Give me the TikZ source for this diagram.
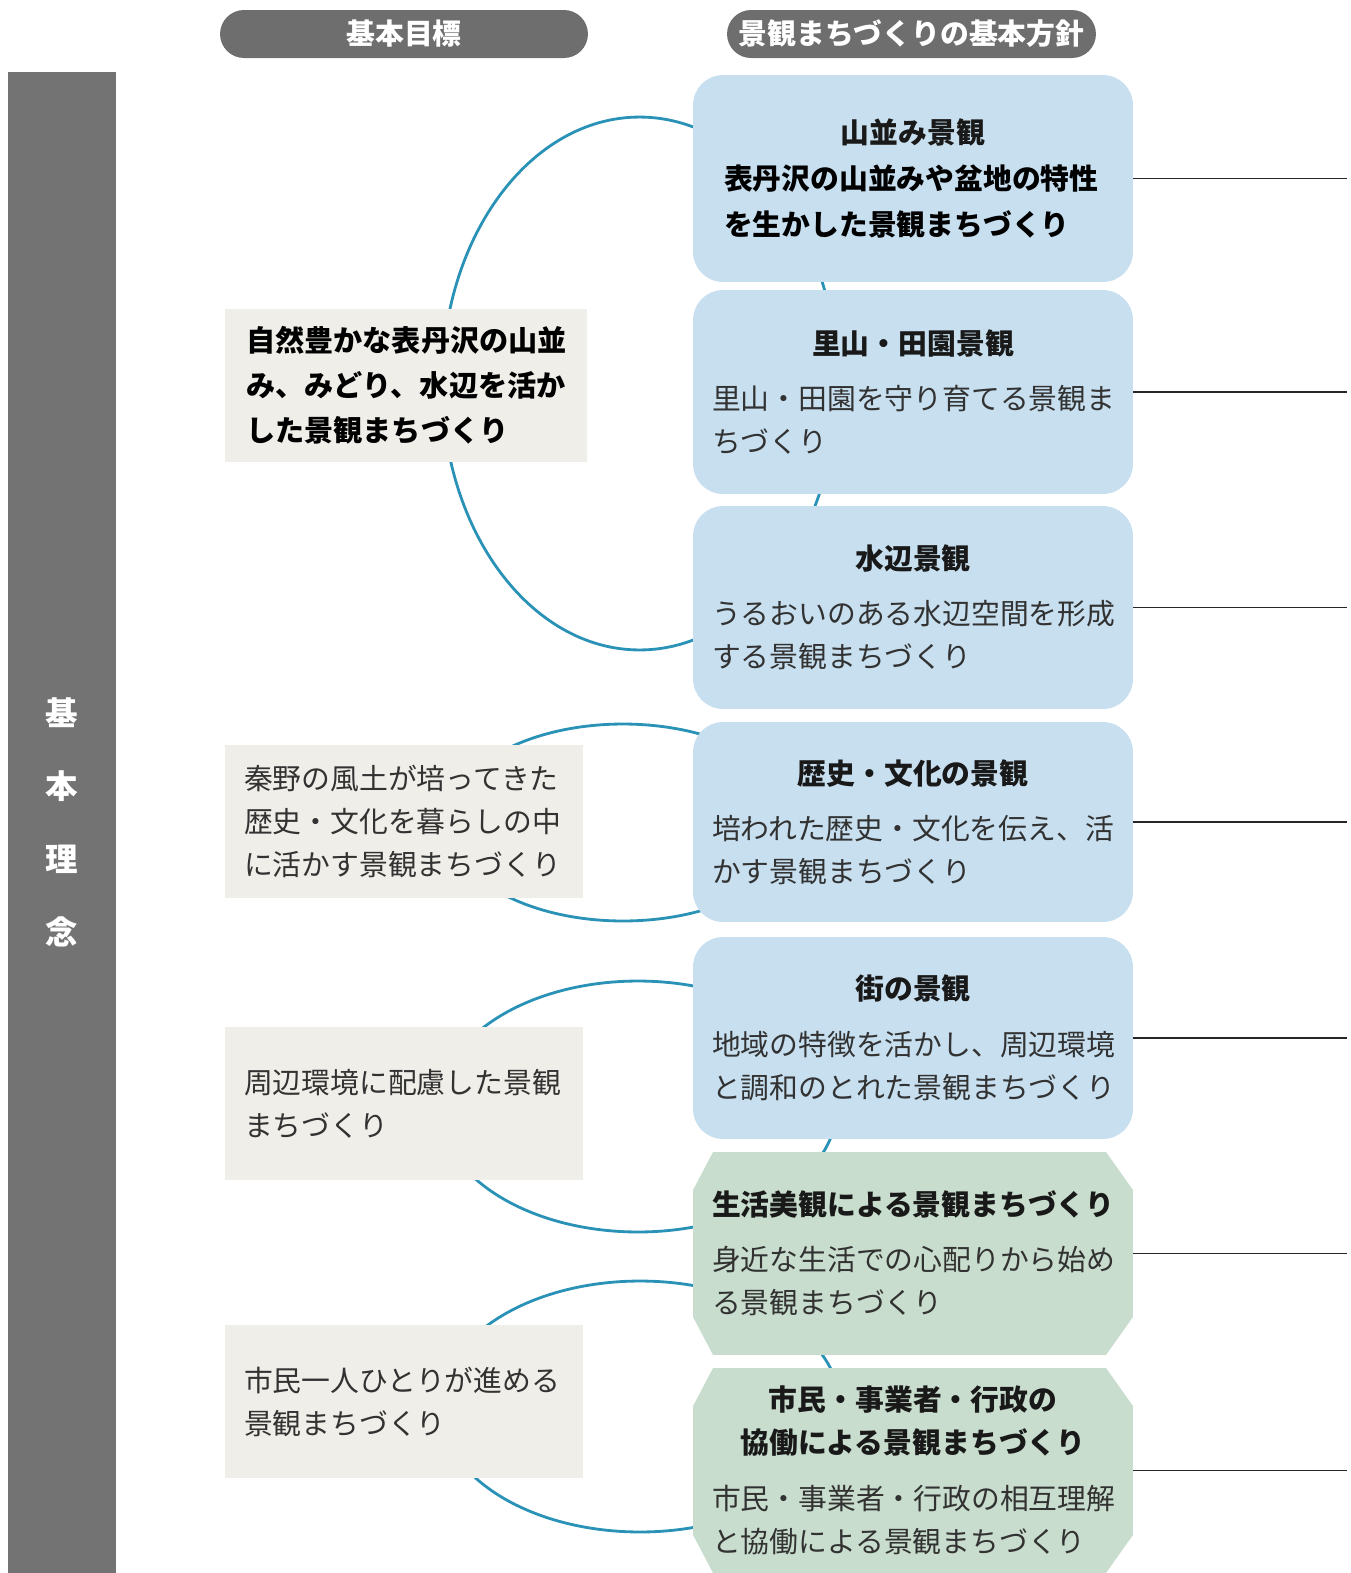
\documentclass[tikz,border=0pt]{standalone}
\usepackage{fontspec}
\setmainfont{Noto Sans CJK JP}
\usetikzlibrary{shapes.geometric}

\definecolor{bargray}{RGB}{115,115,115}
\definecolor{pillgray}{RGB}{110,110,110}
\definecolor{polblue}{RGB}{199,223,239}
\definecolor{polgreen}{RGB}{200,221,205}
\definecolor{goalbeige}{RGB}{240,238,232}
\definecolor{ringblue}{RGB}{42,146,182}
\definecolor{bodytext}{RGB}{50,50,50}

\newcommand\boxfont{\fontsize{16.4}{24.5}\selectfont}
\newcommand\polhead[2][7pt]{{\centering\bfseries\color{black!90}#2\par}\vspace{#1}}

\tikzset{
  pill/.style={rectangle, rounded corners=0.48cm, fill=pillgray, text=white,
    minimum height=0.96cm, inner ysep=0pt, font=\boxfont\bfseries},
  bar/.style={rectangle, fill=bargray, text=white, minimum width=2.16cm,
    minimum height=30.02cm, align=center, font=\fontsize{18.5}{41.5}\selectfont\bfseries},
  ring/.style={ellipse, draw=ringblue, line width=1.6pt, inner sep=0pt},
  policy/.style={rectangle, rounded corners=0.6cm, fill=polblue, minimum width=8.8cm,
    text width=8.04cm, inner xsep=0.38cm, align=left, text=bodytext, font=\boxfont},
  lifestyle/.style={policy, sharp corners, fill=white,
    path picture={\fill[polgreen]
      ([xshift=0.4cm]path picture bounding box.north west) --
      ([xshift=-0.54cm]path picture bounding box.north east) --
      ([yshift=-0.76cm]path picture bounding box.north east) --
      ([yshift=0.76cm]path picture bounding box.south east) --
      ([xshift=-0.54cm]path picture bounding box.south east) --
      ([xshift=0.4cm]path picture bounding box.south west) --
      ([yshift=0.76cm]path picture bounding box.south west) --
      ([yshift=-0.76cm]path picture bounding box.north west) -- cycle;}},
  goal/.style={rectangle, fill=goalbeige, minimum height=3.06cm, text width=6.4cm,
    inner xsep=0.38cm, align=left, text=bodytext, font=\boxfont},
  tie/.style={line width=0.8pt, black!85}
}

\begin{document}
\begin{tikzpicture}[x=0.02cm, y=-0.02cm]
  \useasboundingbox (0,0) rectangle (1351,1573);

  % rings first, the boxes cover them
  \node[ring, minimum width=7.9cm, minimum height=10.66cm] (ringA) at (639.6,383.5) {};
  \node[ring, minimum width=7.0cm, minimum height=3.94cm] (ringB) at (623,822.5) {};
  \node[ring, minimum width=7.96cm, minimum height=5.02cm] (ringC) at (638,1106.5) {};
  \node[ring, minimum width=8.0cm, minimum height=5.02cm] (ringD) at (640,1406.5) {};

  \node[bar] (bar) at (62,822.5) {基\\本\\理\\念};
  \node[pill, minimum width=7.36cm] (hgoal) at (404,34) {基本目標};
  \node[pill, minimum width=7.38cm] (hpolicy) at (911.5,34) {景観まちづくりの基本方針};

  % goals
  \node[goal, inner xsep=0.42cm, text=black, font=\fontsize{16.6}{25.6}\selectfont\bfseries] (gA) at (406,385.5)
    {自然豊かな表丹沢の山並\\み、みどり、水辺を活か\\した景観まちづくり};
  \node[goal] (gB) at (404,821.5) {秦野の風土が培ってきた\\歴史・文化を暮らしの中\\に活かす景観まちづくり};
  \node[goal] (gC) at (404,1103.5) {周辺環境に配慮した景観\\まちづくり};
  \node[goal] (gD) at (404,1401.5) {市民一人ひとりが進める\\景観まちづくり};

  % policies
  \node[policy, minimum height=4.14cm, font=\fontsize{16.4}{26}\selectfont] (p1) at (913,178.5)
    {\polhead[0pt]{山並み景観}{\bfseries\color{black}\hspace*{0.24cm}表丹沢の山並みや盆地の特性\\\hspace*{0.24cm}を生かした景観まちづくり}};
  \node[policy, minimum height=4.08cm] (p2) at (913,392)
    {\polhead{里山・田園景観}里山・田園を守り育てる景観ま\\ちづくり};
  \node[policy, minimum height=4.06cm] (p3) at (913,607.5)
    {\polhead{水辺景観}うるおいのある水辺空間を形成\\する景観まちづくり};
  \node[policy, minimum height=4.0cm] (p4) at (913,822)
    {\polhead{歴史・文化の景観}培われた歴史・文化を伝え、活\\かす景観まちづくり};
  \node[policy, minimum height=4.04cm] (p5) at (913,1038)
    {\polhead{街の景観}地域の特徴を活かし、周辺環境\\と調和のとれた景観まちづくり};
  \node[lifestyle, minimum height=4.06cm] (p6) at (913,1253.5)
    {\polhead{生活美観による景観まちづくり}身近な生活での心配りから始め\\る景観まちづくり};
  \node[lifestyle, minimum height=4.1cm] (p7) at (913,1470.5)
    {\polhead{市民・事業者・行政の\\協働による景観まちづくり}市民・事業者・行政の相互理解\\と協働による景観まちづくり};

  \coordinate (rim) at (1347,0);
  \foreach \i in {1,...,7}
    \draw[tie] (p\i.east) -- (p\i.east -| rim);
\end{tikzpicture}
\end{document}
